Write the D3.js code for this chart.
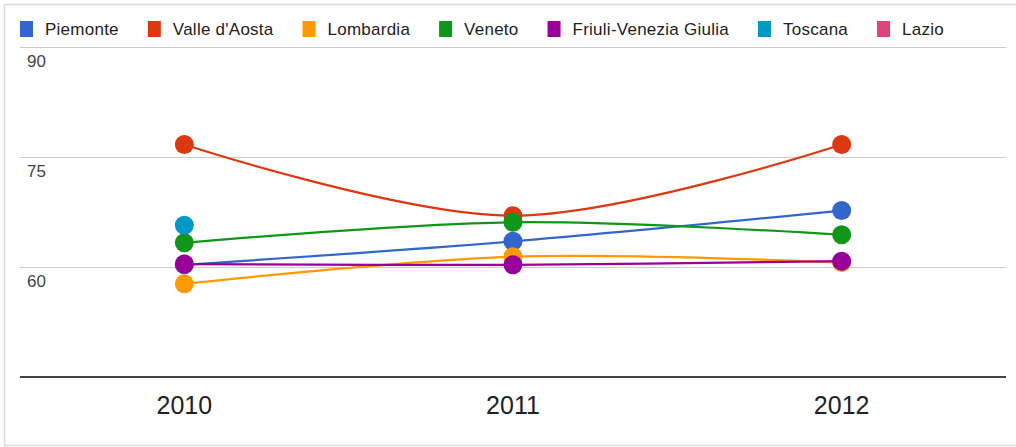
<!DOCTYPE html>
<html>
<head>
<meta charset="utf-8">
<script src="https://cdn.jsdelivr.net/npm/d3@7"></script>
<style>
  html, body { margin: 0; padding: 0; background: #fff; }
  svg { display: block; font-family: Arial, "Liberation Sans", sans-serif; }
</style>
</head>
<body>
<div id="chart"></div>
<script>
// data
const years = ["2010", "2011", "2012"];
const seriesNames = ["Piemonte", "Valle d'Aosta", "Lombardia", "Veneto", "Friuli-Venezia Giulia", "Toscana", "Lazio"];
const colors = ["#3366cc", "#dc3912", "#ff9900", "#109618", "#990099", "#0099c6", "#dd4477"];
const piemonte = [60.3, 63.5, 67.7];
const valleAosta = [76.7, 67.0, 76.7];
const lombardia = [57.7, 61.4, 60.6];
const veneto = [63.3, 66.1, 64.4];
const friuli = [60.4, 60.3, 60.8];
const toscana = [65.7, null, null];
const lazio = [null, null, null];
const yTicks = [60, 75, 90];

const allValues = [piemonte, valleAosta, lombardia, veneto, friuli, toscana, lazio];

const width = 1016, height = 447;
const plot = { left: 20, right: 1006, top: 47, bottom: 377 };

const svg = d3.select("#chart").append("svg")
  .attr("width", width)
  .attr("height", height);

// outer frame
svg.append("rect")
  .attr("x", 4.5).attr("y", 4.5)
  .attr("width", 1030).attr("height", 441)
  .attr("fill", "none")
  .attr("stroke", "#dcdcdc")
  .attr("stroke-width", 1.5);

const x = d3.scalePoint()
  .domain(years)
  .range([plot.left, plot.right])
  .padding(0.5);

const y = d3.scaleLinear()
  .domain([45, 90])
  .range([plot.bottom, plot.top]);

// gridlines + labels
const grid = svg.append("g");
grid.selectAll("line")
  .data(yTicks)
  .enter().append("line")
  .attr("x1", plot.left).attr("x2", plot.right)
  .attr("y1", d => Math.round(y(d)) + 0.5)
  .attr("y2", d => Math.round(y(d)) + 0.5)
  .attr("stroke", "#cccccc")
  .attr("stroke-width", 1);

grid.selectAll("text")
  .data(yTicks)
  .enter().append("text")
  .attr("x", 27)
  .attr("y", d => y(d) + 20)
  .attr("font-size", 17)
  .attr("fill", "#444")
  .text(d => d);

// baseline
svg.append("line")
  .attr("x1", plot.left).attr("x2", plot.right)
  .attr("y1", y(45)).attr("y2", y(45))
  .attr("stroke", "#444")
  .attr("stroke-width", 2);

// x labels
svg.append("g").selectAll("text")
  .data(years)
  .enter().append("text")
  .attr("x", d => x(d))
  .attr("y", 414)
  .attr("text-anchor", "middle")
  .attr("font-size", 25)
  .attr("fill", "#222")
  .text(d => d);

// lines
const line = d3.line()
  .defined(d => d.v != null)
  .x(d => x(d.year))
  .y(d => y(d.v))
  .curve(d3.curveCatmullRom);

const series = allValues.map((vals, i) => ({
  name: seriesNames[i],
  color: colors[i],
  points: vals.map((v, j) => ({ year: years[j], v: v }))
}));

series.forEach(s => {
  const g = svg.append("g");
  g.append("path")
    .datum(s.points)
    .attr("d", line)
    .attr("fill", "none")
    .attr("stroke", s.color)
    .attr("stroke-width", 2.2);
  g.selectAll("circle")
    .data(s.points.filter(p => p.v != null))
    .enter().append("circle")
    .attr("cx", p => x(p.year))
    .attr("cy", p => y(p.v))
    .attr("r", 9.5)
    .attr("fill", s.color);
});

// legend
const legend = svg.append("g");
let lx = 20;
series.forEach(s => {
  legend.append("rect")
    .attr("x", lx).attr("y", 21)
    .attr("width", 13).attr("height", 16)
    .attr("fill", s.color);
  const t = legend.append("text")
    .attr("x", lx + 25)
    .attr("y", 35)
    .attr("font-size", 17)
    .attr("letter-spacing", 0.25)
    .attr("fill", "#222")
    .text(s.name);
  lx += 25 + t.node().getComputedTextLength() + 29;
});
</script>
</body>
</html>
